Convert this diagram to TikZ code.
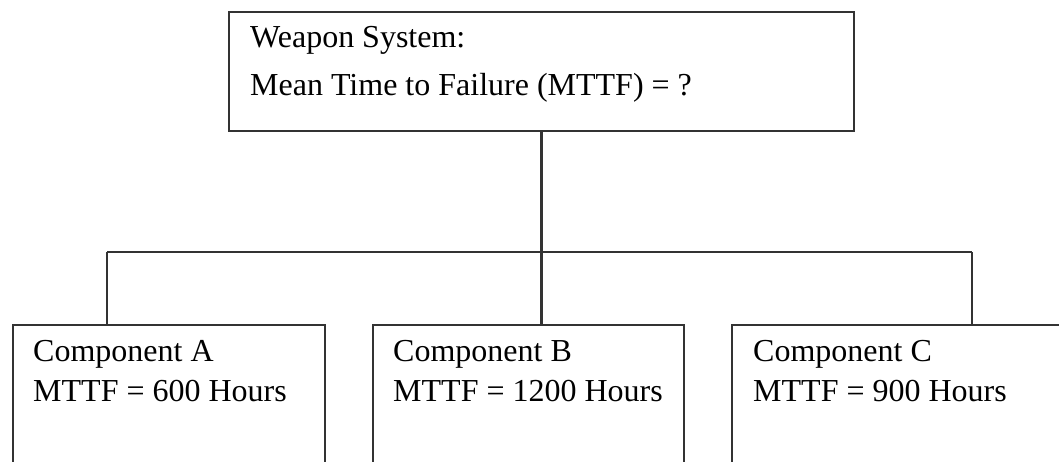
\documentclass[tikz,border=0pt]{standalone}
\usepackage{fontspec}
\setmainfont{Liberation Serif}

\begin{document}
\begin{tikzpicture}[x=1pt, y=-1pt,
  box/.style={draw=black!80, line width=2pt, anchor=north west, inner sep=0pt},
  txt/.style={anchor=base west, inner sep=0pt, font=\fontsize{32}{38}\selectfont},
  link/.style={draw=black!80, line width=2.8pt}]
\useasboundingbox (0,0) rectangle (1059,462);
\clip (0,0) rectangle (1059,462);
\fill[white] (0,0) rectangle (1059,462);

\node[box, minimum width=625pt, minimum height=119pt] (ws) at (228, 11) {};
\node[box, minimum width=312pt, minimum height=200pt] (ca) at (12, 324) {};
\node[box, minimum width=311pt, minimum height=200pt] (cb) at (372, 324) {};
\node[box, minimum width=400pt, minimum height=200pt] (cc) at (731, 324) {};

\node[txt] (ws1) at (250, 48) {Weapon System:};
\node[txt] (ws2) at (250, 96) {Mean Time to Failure (MTTF) = ?};
\node[txt] (ca1) at (33, 361) {Component A};
\node[txt] (ca2) at (33, 401) {MTTF = 600 Hours};
\node[txt] (cb1) at (393, 361) {Component B};
\node[txt] (cb2) at (393, 401) {MTTF = 1200 Hours};
\node[txt] (cc1) at (753, 361) {Component C};
\node[txt] (cc2) at (753, 401) {MTTF = 900 Hours};

\coordinate (ja) at (107, 252);
\coordinate (jc) at (972, 252);
\coordinate (j)  at (ws.south |- ja);

\draw[link] (ws.south) -- (j);
\draw[link] (ja) -- (jc);
\draw[link] (ja) -- (ja |- ca.north);
\draw[link] (j)  -- (j |- cb.north);
\draw[link] (jc) -- (jc |- cc.north);
\end{tikzpicture}
\end{document}
